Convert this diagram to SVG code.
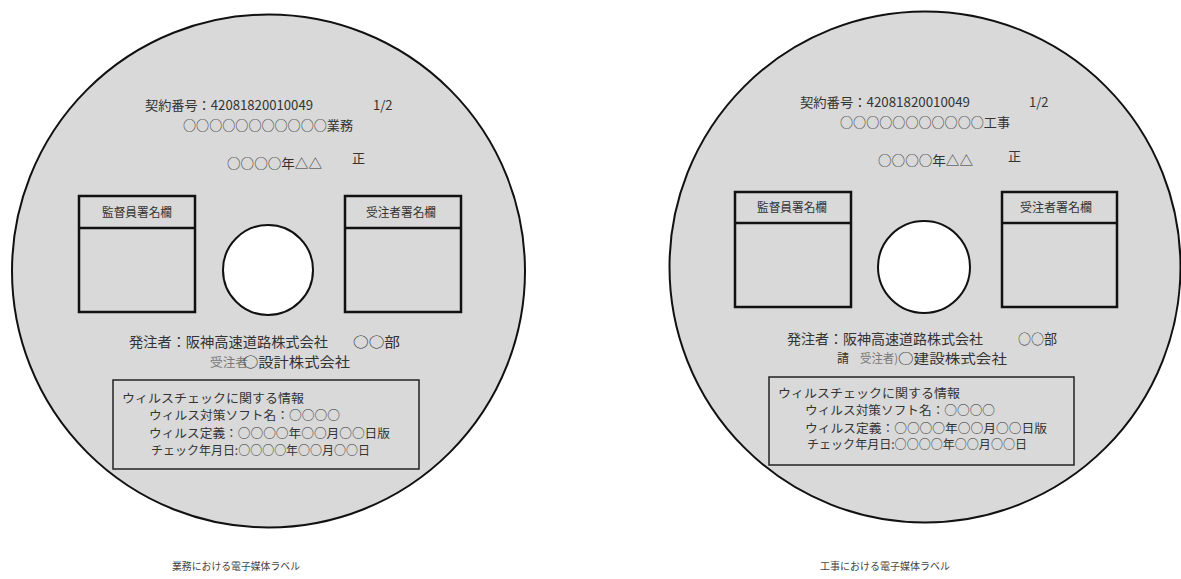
<svg xmlns="http://www.w3.org/2000/svg" width="1181" height="579" viewBox="0 0 1181 579">
<style>
.disc{fill:#d9d9d9;stroke:#111;stroke-width:2}
.hole{fill:#fff;stroke:#111;stroke-width:2}
.box{fill:none;stroke:#111;stroke-width:2.5}
.info{fill:none;stroke:#222;stroke-width:1.5}
text{font-family:"Noto Sans CJK JP","Noto Sans",sans-serif;fill:#333}
.t13{font-size:13px}
.t14{font-size:14px}
.t12{font-size:12px}
.lite{fill:#777}
.cap{font-size:10px;fill:#444}
</style>
<rect width="1181" height="579" fill="#fff"/>
<g id="disc-gyomu">
<circle class="disc" cx="268.5" cy="271" r="256.5"/>
<circle class="hole" cx="268" cy="270" r="45"/>
<text class="t13" x="145" y="110" textLength="168" lengthAdjust="spacingAndGlyphs">契約番号：42081820010049</text>
<text class="t13" x="373" y="110">1/2</text>
<text class="t13" x="183" y="130" textLength="170" lengthAdjust="spacingAndGlyphs">○○○○○○○○○○○業務</text>
<text class="t13" x="227" y="168" textLength="95" lengthAdjust="spacingAndGlyphs">○○○○年△△</text>
<text class="t13" x="352" y="163">正</text>
<g id="box-kantoku-1">
<rect class="box" x="79" y="196" width="116" height="116"/>
<line class="box" x1="79" y1="228" x2="195" y2="228"/>
<text class="t12" x="102" y="217" textLength="70" lengthAdjust="spacingAndGlyphs">監督員署名欄</text>
</g>
<g id="box-jutyu-1">
<rect class="box" x="345" y="196" width="116" height="116"/>
<line class="box" x1="345" y1="228" x2="461" y2="228"/>
<text class="t12" x="366" y="217" textLength="70" lengthAdjust="spacingAndGlyphs">受注者署名欄</text>
</g>
<text class="t14" x="129" y="347" textLength="199" lengthAdjust="spacingAndGlyphs">発注者：阪神高速道路株式会社</text>
<text class="t14" x="353" y="347" textLength="47" lengthAdjust="spacingAndGlyphs">○○部</text>
<text class="t12 lite" x="210" y="367" textLength="38" lengthAdjust="spacingAndGlyphs">受注者</text>
<text class="t14" x="243" y="367" textLength="107" lengthAdjust="spacingAndGlyphs">○設計株式会社</text>
<g id="info-1">
<rect class="info" x="113" y="380" width="306" height="89"/>
<text class="t12" x="122" y="403" textLength="182" lengthAdjust="spacingAndGlyphs">ウィルスチェックに関する情報</text>
<text class="t12" x="149" y="420" textLength="191" lengthAdjust="spacingAndGlyphs">ウィルス対策ソフト名：○○○○</text>
<text class="t12" x="149" y="438" textLength="241" lengthAdjust="spacingAndGlyphs">ウィルス定義：○○○○年○○月○○日版</text>
<text class="t12" x="151" y="455" textLength="219" lengthAdjust="spacingAndGlyphs">チェック年月日:○○○○年○○月○○日</text>
</g>
<text class="cap" x="172" y="570" textLength="128" lengthAdjust="spacingAndGlyphs">業務における電子媒体ラベル</text>
</g>
<g id="disc-koji">
<circle class="disc" cx="925" cy="267" r="255.5"/>
<circle class="hole" cx="924" cy="267" r="46"/>
<text class="t13" x="800" y="107" textLength="170" lengthAdjust="spacingAndGlyphs">契約番号：42081820010049</text>
<text class="t13" x="1029" y="107">1/2</text>
<text class="t13" x="840" y="127" textLength="170" lengthAdjust="spacingAndGlyphs">○○○○○○○○○○○工事</text>
<text class="t13" x="878" y="165" textLength="95" lengthAdjust="spacingAndGlyphs">○○○○年△△</text>
<text class="t13" x="1008" y="161">正</text>
<g id="box-kantoku-2">
<rect class="box" x="735" y="192" width="116" height="115"/>
<line class="box" x1="735" y1="223" x2="851" y2="223"/>
<text class="t12" x="757" y="212" textLength="70" lengthAdjust="spacingAndGlyphs">監督員署名欄</text>
</g>
<g id="box-jutyu-2">
<rect class="box" x="1002" y="192" width="115" height="115"/>
<line class="box" x1="1002" y1="223" x2="1117" y2="223"/>
<text class="t12" x="1020" y="212" textLength="72" lengthAdjust="spacingAndGlyphs">受注者署名欄</text>
</g>
<text class="t14" x="787" y="344" textLength="196" lengthAdjust="spacingAndGlyphs">発注者：阪神高速道路株式会社</text>
<text class="t14" x="1018" y="344" textLength="39" lengthAdjust="spacingAndGlyphs">○○部</text>
<text class="t12" x="837" y="363">請</text>
<text class="t12 lite" x="860" y="363" textLength="38" lengthAdjust="spacingAndGlyphs">受注者)</text>
<text class="t13" x="898" y="363" textLength="109" lengthAdjust="spacingAndGlyphs">○建設株式会社</text>
<g id="info-2">
<rect class="info" x="769" y="377" width="305" height="88"/>
<text class="t12" x="778" y="398" textLength="182" lengthAdjust="spacingAndGlyphs">ウィルスチェックに関する情報</text>
<text class="t12" x="805" y="415" textLength="190" lengthAdjust="spacingAndGlyphs">ウィルス対策ソフト名：○○○○</text>
<text class="t12" x="805" y="433" textLength="242" lengthAdjust="spacingAndGlyphs">ウィルス定義：○○○○年○○月○○日版</text>
<text class="t12" x="807" y="449" textLength="220" lengthAdjust="spacingAndGlyphs">チェック年月日:○○○○年○○月○○日</text>
</g>
<text class="cap" x="820" y="570" textLength="130" lengthAdjust="spacingAndGlyphs">工事における電子媒体ラベル</text>
</g>
</svg>
